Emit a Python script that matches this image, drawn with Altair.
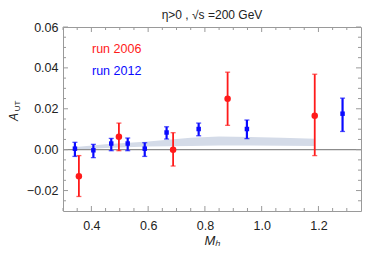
import altair as alt
import pandas as pd

# ---- data ----
red_x = [0.356, 0.497, 0.688, 0.880, 1.187]
red_y = [-0.0130, 0.0063, 0.0000, 0.0249, 0.0166]
red_lo = [-0.0229, -0.0005, -0.0080, 0.0119, -0.0029]
red_hi = [-0.0029, 0.0130, 0.0083, 0.0379, 0.0369]

blue_x = [0.342, 0.407, 0.470, 0.528, 0.588, 0.665, 0.778, 0.948, 1.285]
blue_y = [0.0005, -0.0003, 0.0030, 0.0030, 0.0005, 0.0084, 0.0101, 0.0101, 0.0176]
blue_lo = [-0.0033, -0.0039, -0.0005, -0.0005, -0.0033, 0.0052, 0.0068, 0.0054, 0.0089]
blue_hi = [0.0036, 0.0026, 0.0055, 0.0057, 0.0034, 0.0112, 0.0130, 0.0145, 0.0252]

band_x = [0.345, 0.45, 0.60, 0.75, 0.85, 0.96, 1.07, 1.187]
band_lo = [0.0000, 0.0008, 0.0015, 0.0018, 0.0020, 0.0020, 0.0019, 0.0018]
band_hi = [0.0013, 0.0026, 0.0040, 0.0058, 0.0064, 0.0062, 0.0058, 0.0054]

x_major = [0.4, 0.6, 0.8, 1.0, 1.2]
x_minor = [0.30, 0.35, 0.45, 0.50, 0.55, 0.65, 0.70, 0.75, 0.85, 0.90, 0.95,
           1.05, 1.10, 1.15, 1.25, 1.30]
y_major = [-0.02, 0.0, 0.02, 0.04, 0.06]
y_minor = [-0.025, -0.015, -0.01, -0.005, 0.005, 0.01, 0.015, 0.025, 0.03,
           0.035, 0.045, 0.05, 0.055]

title_text = "η>0 ,  √s =200 GeV"
legend_labels = ["run 2006", "run 2012"]

W, H = 298, 184
FONT = "Liberation Sans"
RED = "#ff1a1a"
BLUE = "#0a0aff"
FRAME = "#9a9a9a"

xs = alt.Scale(domain=[0.3, 1.35], nice=False, zero=False)
ys = alt.Scale(domain=[-0.03, 0.06], nice=False, zero=False)

red = pd.DataFrame({"x": red_x, "y": red_y, "lo": red_lo, "hi": red_hi})
blue = pd.DataFrame({"x": blue_x, "y": blue_y, "lo": blue_lo, "hi": blue_hi})
band = pd.DataFrame({"x": band_x, "lo": band_lo, "hi": band_hi})

X = alt.X("x:Q", scale=xs,
          axis=alt.Axis(values=x_major, format=".1f", title="Mₕ",
                        titleFontStyle="italic", titleFontWeight="normal",
                        titleFontSize=13, titleFont=FONT, titleColor="#222222",
                        titleBaseline="alphabetic", titleY=33,
                        labelFlush=False, labelPadding=8))
Y = alt.Y("y:Q", scale=ys,
          axis=alt.Axis(values=y_major, format=".2f", title=None,
                        labelPadding=5))

band_layer = alt.Chart(band).mark_area(color="#d4dbe8", opacity=1).encode(
    x=alt.X("x:Q", scale=xs), y=alt.Y("lo:Q", scale=ys), y2="hi:Q")

zero_line = alt.Chart(pd.DataFrame({"z": [0.0]})).mark_rule(
    color="#8c8c8c", strokeWidth=1.2).encode(y=alt.Y("z:Q", scale=ys))


def xticks(vals, length):
    df = pd.DataFrame({"v": vals})
    bot = alt.Chart(df).mark_rule(color=FRAME, strokeWidth=1).encode(
        x=alt.X("v:Q", scale=xs), y=alt.value(H), y2=alt.value(H - length))
    top = alt.Chart(df).mark_rule(color=FRAME, strokeWidth=1).encode(
        x=alt.X("v:Q", scale=xs), y=alt.value(0), y2=alt.value(length))
    return [bot, top]


def yticks(vals, length):
    df = pd.DataFrame({"v": vals})
    left = alt.Chart(df).mark_rule(color=FRAME, strokeWidth=1).encode(
        y=alt.Y("v:Q", scale=ys), x=alt.value(0), x2=alt.value(length))
    right = alt.Chart(df).mark_rule(color=FRAME, strokeWidth=1).encode(
        y=alt.Y("v:Q", scale=ys), x=alt.value(W), x2=alt.value(W - length))
    return [left, right]


tick_layers = (xticks(x_major, 5) + xticks(x_minor, 3)
               + yticks(y_major, 5) + yticks(y_minor, 3))


def series(df, color, shape, size, capw, lw):
    bars = alt.Chart(df).mark_rule(color=color, strokeWidth=lw).encode(
        x=alt.X("x:Q", scale=xs), y=alt.Y("lo:Q", scale=ys), y2="hi:Q")
    cap_lo = alt.Chart(df).mark_tick(color=color, orient="horizontal",
                                     size=capw, thickness=1.3).encode(
        x=alt.X("x:Q", scale=xs), y=alt.Y("lo:Q", scale=ys))
    cap_hi = alt.Chart(df).mark_tick(color=color, orient="horizontal",
                                     size=capw, thickness=1.3).encode(
        x=alt.X("x:Q", scale=xs), y=alt.Y("hi:Q", scale=ys))
    pts = alt.Chart(df).mark_point(shape=shape, filled=True, color=color,
                                   size=size, opacity=1).encode(
        x=alt.X("x:Q", scale=xs), y=alt.Y("y:Q", scale=ys))
    return [bars, cap_lo, cap_hi, pts]


red_layers = series(red, RED, "circle", 42, 5, 1.8)
blue_layers = series(blue, BLUE, "square", 20, 5, 2.2)

axis_layer = alt.Chart(red).mark_point(opacity=0).encode(x=X, y=Y)

leg1 = alt.Chart(pd.DataFrame({"t": [legend_labels[0]]})).mark_text(
    align="left", baseline="alphabetic", font=FONT, fontSize=12.5,
    color=RED).encode(text="t:N", x=alt.value(29), y=alt.value(26))
leg2 = alt.Chart(pd.DataFrame({"t": [legend_labels[1]]})).mark_text(
    align="left", baseline="alphabetic", font=FONT, fontSize=12.5,
    color=BLUE).encode(text="t:N", x=alt.value(29), y=alt.value(48))

title_layer = alt.Chart(pd.DataFrame({"t": [title_text]})).mark_text(
    align="center", baseline="alphabetic", font=FONT, fontSize=12,
    color="#222222").encode(text="t:N", x=alt.value(W / 2), y=alt.value(-8))

ya = alt.Chart(pd.DataFrame({"t": ["A"]})).mark_text(
    align="center", baseline="alphabetic", font=FONT, fontSize=12,
    fontStyle="italic", angle=270, color="#222222").encode(
    text="t:N", x=alt.value(-45), y=alt.value(90))
yut = alt.Chart(pd.DataFrame({"t": ["UT"]})).mark_text(
    align="center", baseline="alphabetic", font=FONT, fontSize=8,
    angle=270, color="#222222").encode(
    text="t:N", x=alt.value(-43), y=alt.value(79))

chart = alt.layer(
    band_layer, zero_line, *tick_layers, axis_layer,
    *red_layers, *blue_layers, leg1, leg2, title_layer, ya, yut
).properties(
    width=W, height=H,
    autosize=alt.AutoSizeParams(type="none"),
    padding={"left": 55, "top": 19, "right": 13, "bottom": 35},
).configure_view(
    stroke=FRAME, strokeWidth=1
).configure_axis(
    grid=False, ticks=False, domain=False, labelFont=FONT, labelFontSize=12.5,
    labelColor="#222222"
)

chart.save("out.html", embed_options={"renderer": "svg", "actions": False})
